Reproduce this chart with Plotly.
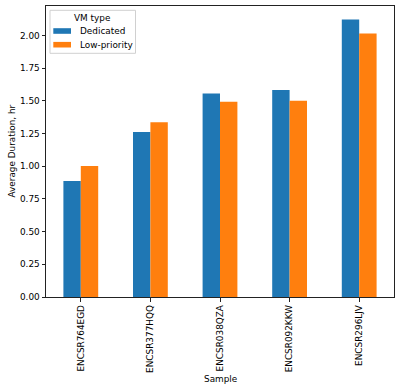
import plotly.graph_objects as go

samples = ["ENCSR764EGD", "ENCSR377HQQ", "ENCSR038QZA", "ENCSR092KKW", "ENCSR296LJV"]
dedicated = [0.888, 1.262, 1.556, 1.584, 2.122]
low_priority = [1.002, 1.337, 1.494, 1.502, 2.015]
series_names = ["Dedicated", "Low-priority"]
colors = ["#1f77b4", "#ff7f0e"]
legend_title = "VM type"

W, H = 400, 390
L, R, T, B = 46, 6, 6, 93
PW, PH = W - L - R, H - T - B


def px(x):
    return (x - L) / PW


def py(y):
    return (H - B - y) / PH


fig = go.Figure()
for name, vals, c in zip(series_names, [dedicated, low_priority], colors):
    fig.add_trace(go.Bar(x=samples, y=vals, name=name, marker=dict(color=c, line=dict(width=0))))

font = dict(family="DejaVu Sans", size=8.9, color="#000000")

shapes = [dict(type="rect", xref="paper", yref="paper", x0=px(50), x1=px(135.5),
               y0=py(53.3), y1=py(10.3), line=dict(color="#d0d0d0", width=1),
               fillcolor="rgba(255,255,255,0.8)", layer="above")]
annotations = [
    dict(text="Sample", x=px(220), y=py(379), xref="paper", yref="paper",
         xanchor="center", yanchor="middle", showarrow=False, font=font),
    dict(text="Average Duration, hr", x=px(11), y=0.5, xref="paper", yref="paper",
         xanchor="center", yanchor="middle", showarrow=False, font=font, textangle=-90),
    dict(text=legend_title, x=px(92), y=py(18), xref="paper", yref="paper",
         xanchor="center", yanchor="middle", showarrow=False, font=font),
]
for i, (name, c) in enumerate(zip(series_names, colors)):
    yc = 31 + i * 13.7
    shapes.append(dict(type="rect", xref="paper", yref="paper", x0=px(53.3), x1=px(71),
                       y0=py(yc + 2.8), y1=py(yc - 2.8), line=dict(width=0), fillcolor=c, layer="above"))
    annotations.append(dict(text=name, x=px(77.5), y=py(yc), xref="paper", yref="paper",
                            xanchor="left", yanchor="middle", showarrow=False, font=font))

fig.update_layout(
    width=W, height=H,
    margin=dict(l=L, r=R, t=T, b=B),
    plot_bgcolor="white", paper_bgcolor="white",
    barmode="group", bargap=0.5, bargroupgap=0,
    font=font,
    showlegend=False,
    xaxis=dict(
        type="category", range=[-0.5, 4.5], automargin=False,
        showline=True, linecolor="#222222", linewidth=1, mirror=True,
        ticks="outside", ticklen=3.5, tickcolor="#222222", tickwidth=0.8,
        tickangle=-90, showgrid=False,
    ),
    yaxis=dict(
        range=[0, 2.2261], automargin=False,
        tickvals=[0, 0.25, 0.5, 0.75, 1.0, 1.25, 1.5, 1.75, 2.0],
        ticktext=["0.00", "0.25", "0.50", "0.75", "1.00", "1.25", "1.50", "1.75", "2.00"],
        showline=True, linecolor="#222222", linewidth=1, mirror=True,
        ticks="outside", ticklen=3.5, tickcolor="#222222", tickwidth=0.8,
        showgrid=False, zeroline=False,
    ),
    shapes=shapes,
    annotations=annotations,
)
fig.write_html("out.html", config={"displayModeBar": False},
               post_script="document.body.style.margin='0';")
